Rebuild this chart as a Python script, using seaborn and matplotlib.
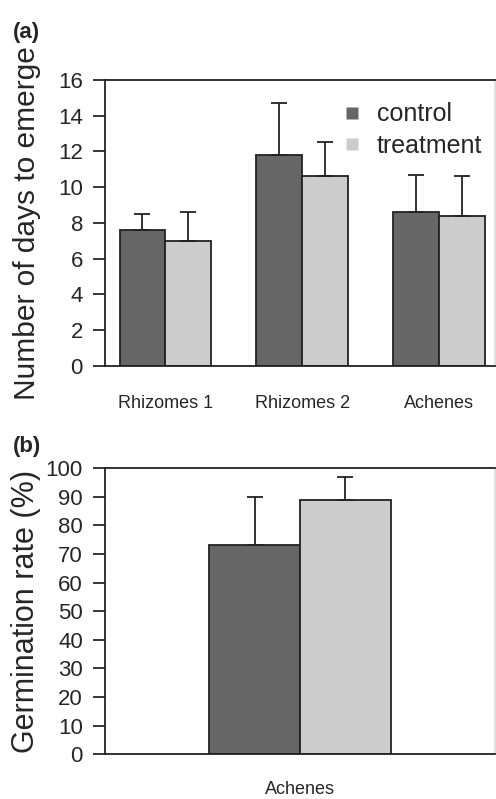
import numpy as np
import pandas as pd
import seaborn as sns
import matplotlib.pyplot as plt
from matplotlib.lines import Line2D

# Данные: среднее число дней до появления всходов и ошибки (только вверх)
groups_a = ['Rhizomes 1', 'Rhizomes 2', 'Achenes']
control_days = [7.6, 11.8, 8.6]
control_days_err = [0.9, 2.9, 2.1]
treatment_days = [7.0, 10.6, 8.4]
treatment_days_err = [1.6, 1.95, 2.2]

# Данные: всхожесть семянок (%)
groups_b = ['Achenes']
control_germ = [73.0]
control_germ_err = [17.0]
treatment_germ = [89.0]
treatment_germ_err = [8.0]

conditions = ['control', 'treatment']
colors = {'control': '#666666', 'treatment': '#cccccc'}

sns.set_style('ticks')
plt.rcParams['font.family'] = ['Liberation Sans', 'DejaVu Sans']

df_a = pd.DataFrame({
    'group': groups_a * 2,
    'value': control_days + treatment_days,
    'cond': ['control'] * 3 + ['treatment'] * 3,
})
df_b = pd.DataFrame({
    'group': groups_b * 2,
    'value': control_germ + treatment_germ,
    'cond': ['control', 'treatment'],
})

fig = plt.figure(figsize=(4.96, 7.99), dpi=100)
ax1 = fig.add_axes([0.212, 0.542, 0.786, 0.358])
ax2 = fig.add_axes([0.212, 0.056, 0.786, 0.358])


def draw(ax, df, errs, width):
    sns.barplot(data=df, x='group', y='value', hue='cond', hue_order=conditions,
                palette=colors, width=width, edgecolor='#222222', linewidth=1.3,
                errorbar=None, saturation=1, ax=ax, legend=False)
    # Ошибки только вверх, как в оригинале
    for cont, err in zip(ax.containers, errs):
        xs = [b.get_x() + b.get_width() / 2 for b in cont]
        ys = [b.get_height() for b in cont]
        ax.errorbar(xs, ys, yerr=[np.zeros(len(err)), err], fmt='none',
                    ecolor='#222222', elinewidth=1.3, capsize=6, capthick=1.3)
    for s in ax.spines.values():
        s.set_linewidth(1.3)
        s.set_color('#222222')
    ax.spines['right'].set_color('#dddddd')
    ax.tick_params(axis='y', direction='out', length=9, width=1.3, labelsize=16,
                   pad=7)
    ax.tick_params(axis='x', length=0, labelsize=13, pad=21)
    ax.set_xlabel('')
    ax.yaxis.set_label_coords(-0.165, 0.5)


draw(ax1, df_a, [control_days_err, treatment_days_err], 0.67)
ax1.set_ylim(0, 16)
ax1.set_yticks(range(0, 17, 2))
ax1.set_xlim(-0.44, 2.41)
ax1.set_ylabel('Number of days to emerge', fontsize=21.5)
handles = [Line2D([], [], marker='s', linestyle='none', markersize=8,
                  markerfacecolor=colors[c], markeredgecolor='none') for c in conditions]
ax1.legend(handles, conditions, frameon=False, loc='upper right', fontsize=18,
           bbox_to_anchor=(1.025, 1.0), handlelength=0.8, handletextpad=0.6,
           labelspacing=0.3)

draw(ax2, df_b, [control_germ_err, treatment_germ_err], 0.465)
ax2.set_ylim(0, 100)
ax2.set_yticks(range(0, 101, 10))
ax2.set_xlim(-0.5, 0.5)
ax2.tick_params(axis='x', pad=19)
ax2.set_ylabel('Germination rate (%)', fontsize=22)

fig.text(0.025, 0.953, '(a)', fontsize=16, fontweight='bold')
fig.text(0.025, 0.434, '(b)', fontsize=16, fontweight='bold')

fig.savefig('out.png', dpi=100)
